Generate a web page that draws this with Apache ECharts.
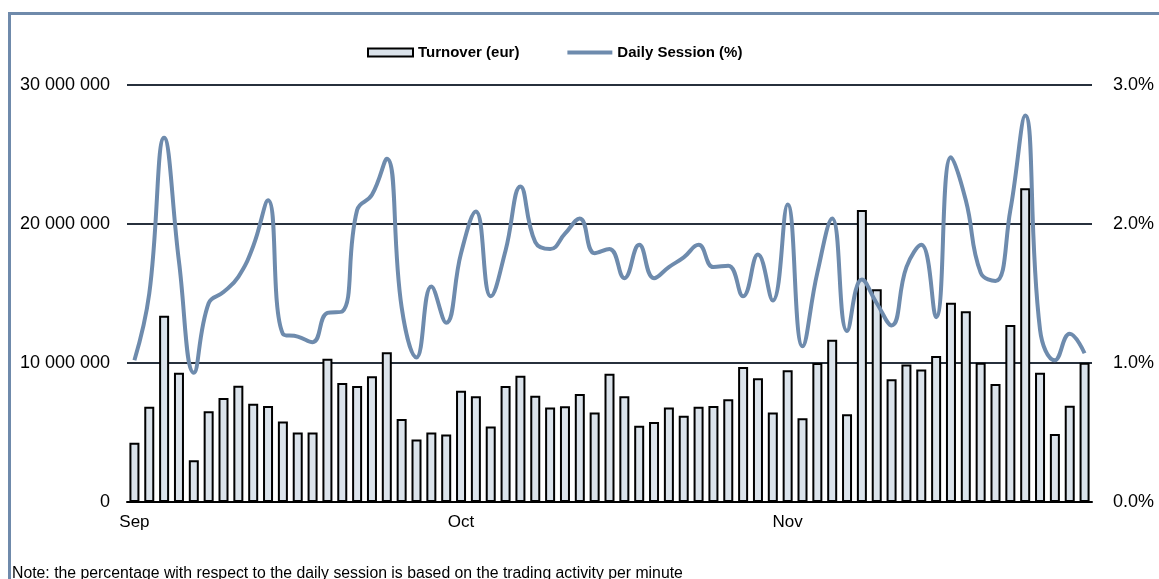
<!DOCTYPE html>
<html>
<head>
<meta charset="utf-8">
<script src="https://cdn.jsdelivr.net/npm/echarts@6/dist/echarts.min.js"></script>
<style>
  html, body { margin: 0; padding: 0; background: #fff; }
  #chart { width: 1159px; height: 579px; }
</style>
</head>
<body>
<div id="chart"></div>
<script>
// trading days Sep - Nov, one entry per session
const monthNames = ['Sep', 'Oct', 'Nov'];
const monthStart = [0, 22, 44];

const turnover = [
  4270000, 6860000, 13400000, 9300000, 3000000, 6520000, 7480000, 8370000, 7070000, 6900000,
  5800000, 5000000, 5000000, 10300000, 8560000, 8350000, 9040000, 10770000, 5970000, 4500000,
  5000000, 4850000, 8000000, 7600000, 5440000, 8350000, 9090000, 7650000, 6790000, 6880000,
  7770000, 6430000, 9230000, 7600000, 5490000, 5760000, 6790000, 6210000, 6860000, 6900000,
  7390000, 9710000, 8900000, 6430000, 9470000, 6020000, 10000000, 11680000, 6310000, 21000000,
  15300000, 8830000, 9900000, 9540000, 10500000, 14340000, 13720000, 10020000, 8490000, 12730000,
  22570000, 9300000, 4890000, 6930000, 10020000
];

const dailySession = [
  1.02, 1.50, 2.62, 1.73, 0.93, 1.43, 1.51, 1.62, 1.84, 2.17,
  1.21, 1.19, 1.15, 1.36, 1.37, 2.10, 2.21, 2.47, 1.40, 1.04,
  1.55, 1.29, 1.79, 2.09, 1.48, 1.81, 2.27, 1.87, 1.82, 1.93,
  2.04, 1.79, 1.82, 1.61, 1.85, 1.61, 1.69, 1.76, 1.85, 1.69,
  1.70, 1.48, 1.78, 1.45, 2.14, 1.12, 1.65, 2.04, 1.23, 1.60,
  1.43, 1.27, 1.69, 1.85, 1.33, 2.48, 2.17, 1.65, 1.59, 2.10,
  2.78, 1.24, 1.02, 1.21, 1.07
];

const days = turnover.map((_, i) => String(i + 1));
const font = '"Liberation Sans", Arial, sans-serif';
const frameColor = '#6f8aab';
const lineColor = '#6e8bad';

function monthOf(idx) {
  const k = monthStart.indexOf(idx);
  return k >= 0 ? monthNames[k] : '';
}

function fmtSpace(v) {
  return String(Math.round(v)).replace(/\B(?=(\d{3})+(?!\d))/g, ' ');
}

const chart = echarts.init(document.getElementById('chart'), null, {renderer: 'canvas'});

chart.setOption({
  animation: false,
  backgroundColor: '#fff',
  grid: {left: 127, right: 67, top: 85, bottom: 77},
  legend: {
    left: 367,
    top: 45,
    padding: 0,
    itemWidth: 45,
    itemHeight: 8,
    itemGap: 48,
    textStyle: {fontFamily: font, fontSize: 15, fontWeight: 'bold', color: '#000'},
    data: [
      {name: 'Turnover (eur)', icon: 'rect'},
      {
        name: 'Daily Session (%)',
        // thin band in the middle of the 45x8 icon box
        icon: 'path://M0,0L45,0L45,0.01Z M0,2L45,2L45,6L0,6Z M0,8L45,8L45,8.01Z',
        itemStyle: {color: lineColor, borderWidth: 0}
      }
    ]
  },
  xAxis: {
    type: 'category',
    data: days,
    axisLine: {show: true, lineStyle: {color: '#000', width: 2}},
    axisTick: {show: false},
    axisLabel: {
      interval: (idx) => monthStart.indexOf(idx) >= 0,
      formatter: (val, idx) => monthOf(idx),
      color: '#000',
      fontFamily: font,
      fontSize: 17,
      margin: 12
    }
  },
  yAxis: [
    {
      type: 'value',
      min: 0,
      max: 30000000,
      interval: 10000000,
      axisLine: {show: false},
      axisTick: {show: false},
      splitLine: {lineStyle: {color: '#27303c', width: 2}},
      axisLabel: {
        formatter: fmtSpace,
        color: '#000',
        fontFamily: font,
        fontSize: 18,
        margin: 17
      }
    },
    {
      type: 'value',
      min: 0,
      max: 3,
      interval: 1,
      axisLine: {show: false},
      axisTick: {show: false},
      splitLine: {show: false},
      axisLabel: {
        formatter: (v) => v.toFixed(1) + '%',
        color: '#000',
        fontFamily: font,
        fontSize: 18,
        margin: 21
      }
    }
  ],
  series: [
    {
      name: 'Turnover (eur)',
      type: 'bar',
      data: turnover,
      barWidth: 10,
      itemStyle: {color: '#dbe3eb', borderColor: '#000', borderWidth: 2}
    },
    {
      name: 'Daily Session (%)',
      type: 'line',
      yAxisIndex: 1,
      data: dailySession,
      smooth: 0.45,
      symbol: 'none',
      lineStyle: {color: lineColor, width: 4},
      itemStyle: {color: lineColor}
    }
  ],
  graphic: [
    {
      type: 'line',
      shape: {x1: 8, y1: 13.5, x2: 1159, y2: 13.5},
      style: {stroke: frameColor, lineWidth: 3}
    },
    {
      type: 'line',
      shape: {x1: 9.5, y1: 12, x2: 9.5, y2: 579},
      style: {stroke: frameColor, lineWidth: 3}
    },
    {
      type: 'text',
      left: 12,
      top: 566,
      style: {
        text: 'Note: the percentage with respect to the daily session is based on the trading activity per minute',
        fill: '#000',
        font: '15.8px ' + font
      }
    }
  ]
});
</script>
</body>
</html>
